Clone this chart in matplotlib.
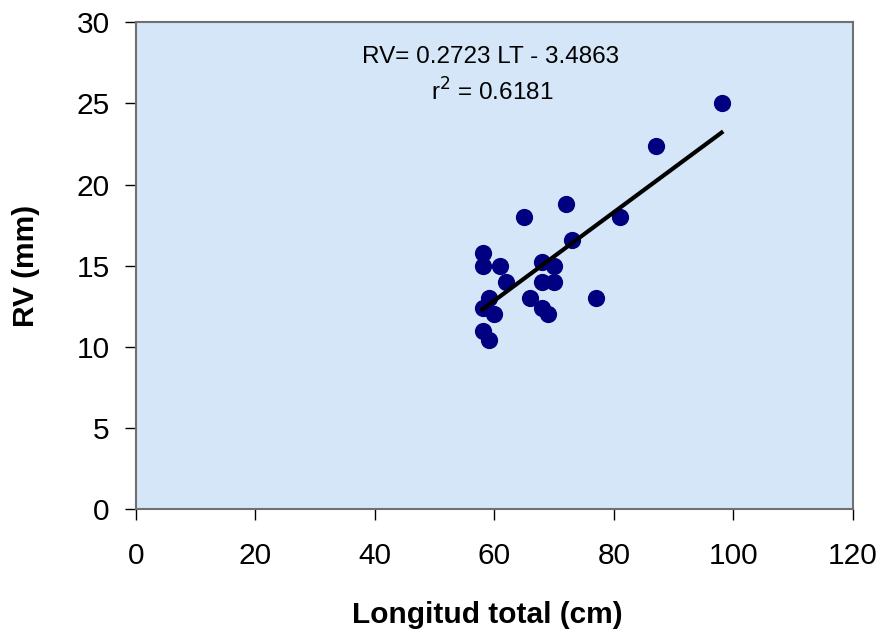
import numpy as np
import matplotlib.pyplot as plt

plt.rcParams['font.family'] = ['Liberation Sans', 'DejaVu Sans']

# longitud total (cm) vs RV (mm)
lt = [72, 65, 81, 73, 58, 58, 61, 68, 70, 62, 68, 70, 59, 66, 77,
      58, 60, 68, 69, 58, 59, 98, 87]
rv = [18.8, 18, 18, 16.6, 15.8, 15, 15, 15.2, 15, 14, 14, 14, 13, 13, 13,
      12.4, 12, 12.4, 12, 11, 10.4, 25, 22.4]
slope = 0.2723
intercept = -3.4863
r2 = 0.6181

fig = plt.figure(figsize=(8.83, 6.37), dpi=100)
ax = fig.add_axes([0.154, 0.201, 0.812, 0.764])
ax.set_facecolor('#d4e6f8')

ax.scatter(lt, rv, s=130, color='#000080', zorder=3)
xs = np.array([min(lt), max(lt)])
ax.plot(xs, slope * xs + intercept, color='black', linewidth=3, zorder=4)

ax.text(0.495, 0.928, 'RV= 0.2723 LT - 3.4863', transform=ax.transAxes,
        ha='center', va='center', fontsize=17.5)
ax.text(0.497, 0.856, 'r$^2$ = %.4f' % r2, transform=ax.transAxes,
        ha='center', va='center', fontsize=17.5)

ax.set_xlim(0, 120)
ax.set_ylim(0, 30)
ax.set_xticks(range(0, 121, 20))
ax.set_yticks(range(0, 31, 5))
ax.tick_params(labelsize=21.5, length=8, width=1, direction='out')
ax.tick_params(axis='x', pad=16)
ax.tick_params(axis='y', pad=11)

for s in ['top', 'right', 'left', 'bottom']:
    ax.spines[s].set_color('#707070')
    ax.spines[s].set_linewidth(1.5)

ax.set_xlabel('Longitud total (cm)', fontsize=21.5, fontweight='bold')
ax.xaxis.set_label_coords(0.49, -0.19)
ax.set_ylabel('RV (mm)', fontsize=21.5, fontweight='bold', labelpad=26)

fig.savefig('out.png', dpi=100)
